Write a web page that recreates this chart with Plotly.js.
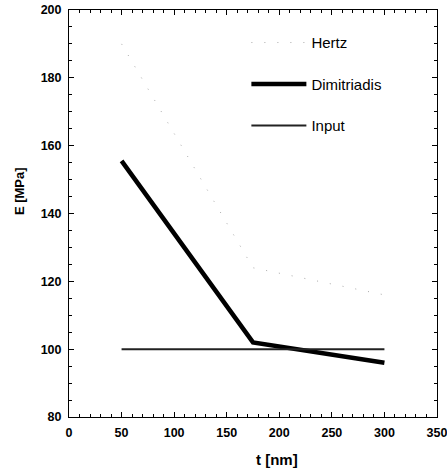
<!DOCTYPE html>
<html><head><meta charset="utf-8">
<script src="https://cdn.plot.ly/plotly-3.0.1.min.js"></script>
<style>html,body{margin:0;padding:0;background:#fff}#chart{width:447px;height:472px}</style>
</head><body><div id="chart"></div>
<script>
const hertzT = [50, 175, 300];
const hertzE = [190, 124, 116];
const dimT = [50, 175, 300];
const dimE = [155.5, 102, 96];
const inputT = [50, 300];
const inputE = [100, 100];
const xTicks = [0, 50, 100, 150, 200, 250, 300, 350];
const yTicks = [80, 100, 120, 140, 160, 180, 200];

const font = {family: 'Liberation Sans, Arial, sans-serif', color: '#000'};
const traces = [
  {x: hertzT, y: hertzE, name: 'Hertz', mode: 'lines', legendgroup: 'a',
   line: {color: '#aaa', width: 1, dash: '1px,12px'}},
  {x: dimT, y: dimE, name: 'Dimitriadis', mode: 'lines', legendgroup: 'b',
   line: {color: '#000', width: 4.5}},
  {x: inputT, y: inputE, name: 'Input', mode: 'lines', legendgroup: 'c',
   line: {color: '#222', width: 2}}
];
const axisCommon = {showline: true, linecolor: '#000', linewidth: 1, mirror: 'ticks',
  ticks: 'inside', ticklen: 5, tickcolor: '#000', showgrid: false, zeroline: false,
  ticklabeloverflow: 'allow', ticklabelstandoff: 4,
  tickfont: Object.assign({size: 12.5, weight: 'bold'}, font)};
const layout = {
  width: 447, height: 472,
  margin: {l: 69, r: 10, t: 10, b: 55},
  paper_bgcolor: '#fff', plot_bgcolor: '#fff',
  showlegend: true,
  legend: {x: 0.482, y: 0.96, xanchor: 'left', yanchor: 'top', bgcolor: 'rgba(0,0,0,0)',
    itemwidth: 55, tracegroupgap: 19, font: Object.assign({size: 15}, font)},
  xaxis: Object.assign({}, axisCommon, {range: [0, 350], tickvals: xTicks,
    minor: {dtick: 10, ticks: 'inside', ticklen: 3, tickcolor: '#000'}}),
  yaxis: Object.assign({}, axisCommon, {range: [80, 200], tickvals: yTicks,
    minor: {dtick: 5, ticks: 'inside', ticklen: 3, tickcolor: '#000'}}),
  annotations: [
    {text: 't [nm]', xref: 'paper', yref: 'paper', x: 0.565, y: -0.105, xanchor: 'center', yanchor: 'middle',
     showarrow: false, font: Object.assign({size: 15, weight: 'bold'}, font)},
    {text: 'E [MPa]', xref: 'paper', yref: 'paper', x: -0.136, y: 0.555, xanchor: 'center', yanchor: 'middle',
     textangle: -90, showarrow: false, font: Object.assign({size: 13, weight: 'bold'}, font)}
  ]
};
Plotly.newPlot('chart', traces, layout, {displayModeBar: false, staticPlot: true});
</script></body></html>
